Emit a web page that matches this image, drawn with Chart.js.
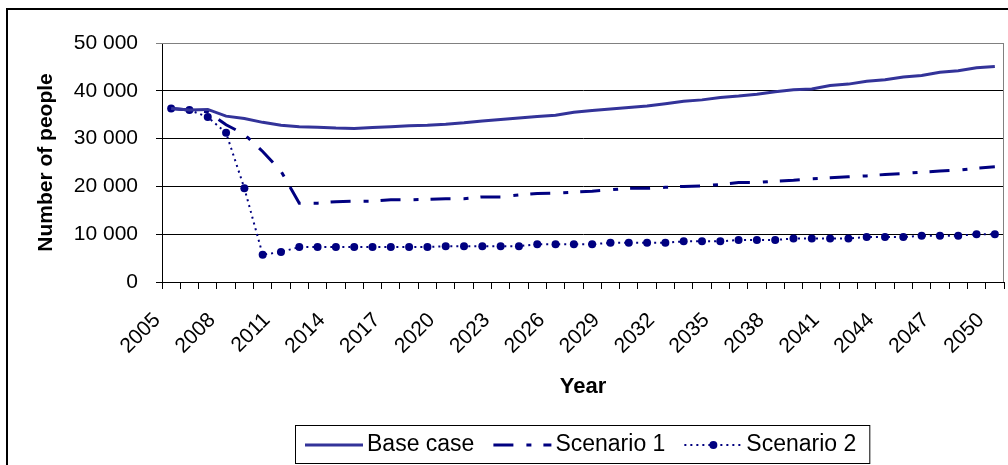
<!DOCTYPE html>
<html>
<head>
<meta charset="utf-8">
<script src="https://cdn.jsdelivr.net/npm/chart.js@4/dist/chart.umd.min.js"></script>
<style>
  html, body { margin: 0; padding: 0; background: #fff; }
  canvas { display: block; }
</style>
</head>
<body>
<canvas id="chart" width="1008" height="465"></canvas>
<script>
// Population projections, 2005-2050
const years = [
  '2005','2006','2007','2008','2009','2010','2011','2012','2013','2014',
  '2015','2016','2017','2018','2019','2020','2021','2022','2023','2024',
  '2025','2026','2027','2028','2029','2030','2031','2032','2033','2034',
  '2035','2036','2037','2038','2039','2040','2041','2042','2043','2044',
  '2045','2046','2047','2048','2049','2050'
];

// Years that carry a label on the category axis
const labelledYears = [
  '2005','2008','2011','2014','2017','2020','2023','2026',
  '2029','2032','2035','2038','2041','2044','2047','2050'
];

const baseCase = [
  36300, 36000, 36100, 34700, 34200, 33400, 32800, 32500, 32400, 32200,
  32100, 32300, 32500, 32700, 32800, 33000, 33300, 33700, 34000, 34300,
  34600, 34900, 35500, 35900, 36200, 36500, 36800, 37300, 37800, 38100,
  38600, 38900, 39300, 39800, 40200, 40400, 41100, 41400, 42000, 42300,
  42900, 43200, 43900, 44200, 44800, 45100
];

const scenario1 = [
  36300, 36000, 35600, 32900, 30900, 27300, 23200, 16500, 16500, 16800,
  16900, 16900, 17200, 17200, 17300, 17400, 17400, 17800, 17800, 18200,
  18500, 18600, 18800, 19000, 19300, 19600, 19600, 19800, 20000, 20100,
  20400, 20800, 20800, 21100, 21300, 21600, 21800, 22000, 22200, 22500,
  22700, 23000, 23200, 23400, 23800, 24100
];

const scenario2 = [
  36300, 36000, 34500, 31200, 19600, 5700, 6300, 7300, 7300, 7300,
  7300, 7300, 7300, 7300, 7300, 7500, 7500, 7500, 7500, 7500,
  7900, 7900, 7900, 7900, 8200, 8200, 8200, 8200, 8500, 8500,
  8500, 8800, 8800, 8800, 9100, 9100, 9100, 9100, 9400, 9400,
  9400, 9700, 9700, 9700, 10000, 10000
];

const seriesNames = ['Base case', 'Scenario 1', 'Scenario 2'];

const yMin = 0;
const yMax = 50000;
const yStep = 10000;

const FONT = '"Liberation Sans", Arial, Helvetica, sans-serif';
const NAVY = '#000080';
const BASE_BLUE = '#333399';

function spacedThousands(v) {
  return String(v).replace(/\B(?=(\d{3})+(?!\d))/g, ' ');
}

// Outer chart frame (left and top edges fall inside the page)
const outerFrame = {
  id: 'outerFrame',
  beforeDraw(chart) {
    const ctx = chart.ctx;
    ctx.save();
    ctx.fillStyle = '#fff';
    ctx.fillRect(0, 0, chart.width, chart.height);
    ctx.strokeStyle = '#000';
    ctx.lineWidth = 2;
    ctx.beginPath();
    ctx.moveTo(7, chart.height + 2);
    ctx.lineTo(7, 9);
    ctx.lineTo(chart.width + 2, 9);
    ctx.stroke();
    ctx.restore();
  }
};

// Grey border on the top and right of the plot area
const plotFrame = {
  id: 'plotFrame',
  beforeDatasetsDraw(chart) {
    const { ctx, chartArea: a } = chart;
    ctx.save();
    ctx.strokeStyle = '#808080';
    ctx.lineWidth = 1;
    ctx.beginPath();
    ctx.moveTo(a.left, Math.round(a.top) + 0.5);
    ctx.lineTo(Math.round(a.right) - 0.5, Math.round(a.top) + 0.5);
    ctx.lineTo(Math.round(a.right) - 0.5, a.bottom);
    ctx.stroke();
    ctx.restore();
  }
};

// Boxed legend with line samples under the axis title
const boxedLegend = {
  id: 'boxedLegend',
  afterDraw(chart) {
    const ctx = chart.ctx;
    const datasets = chart.data.datasets;
    const left = 295, top = 425, height = 38;
    const sampleLen = 58, textGap = 4, itemGap = 19, padL = 10, padR = 13;
    ctx.save();
    ctx.font = '23px ' + FONT;
    ctx.textBaseline = 'middle';
    ctx.textAlign = 'left';
    const cy = top + height / 2 + 1;
    let x = left + padL;
    const items = datasets.map(ds => {
      const w = ctx.measureText(ds.label).width;
      const it = { ds, x, w };
      x += sampleLen + textGap + w + itemGap;
      return it;
    });
    const right = x - itemGap + padR;

    ctx.fillStyle = '#fff';
    ctx.fillRect(left, top, right - left, height);
    ctx.strokeStyle = '#000';
    ctx.lineWidth = 1;
    ctx.strokeRect(left + 0.5, top + 0.5, right - left, height);

    items.forEach(({ ds, x, w }) => {
      ctx.save();
      ctx.strokeStyle = ds.borderColor;
      ctx.lineWidth = ds.borderWidth;
      ctx.setLineDash(ds.borderDash || []);
      ctx.beginPath();
      ctx.moveTo(x, cy);
      ctx.lineTo(x + sampleLen, cy);
      ctx.stroke();
      if (ds.pointRadius > 0) {
        ctx.setLineDash([]);
        ctx.fillStyle = ds.pointBackgroundColor;
        ctx.beginPath();
        ctx.arc(x + sampleLen / 2, cy, ds.pointRadius, 0, Math.PI * 2);
        ctx.fill();
      }
      ctx.restore();
      ctx.fillStyle = '#000';
      ctx.fillText(ds.label, x + sampleLen + textGap, cy);
    });
    ctx.restore();
  }
};

new Chart(document.getElementById('chart'), {
  type: 'line',
  data: {
    labels: years,
    datasets: [
      {
        label: seriesNames[0],
        data: baseCase,
        borderColor: BASE_BLUE,
        borderWidth: 3,
        pointRadius: 0,
        tension: 0
      },
      {
        label: seriesNames[1],
        data: scenario1,
        borderColor: NAVY,
        borderWidth: 3,
        borderDash: [20, 13, 5, 12],
        pointRadius: 0,
        tension: 0
      },
      {
        label: seriesNames[2],
        data: scenario2,
        borderColor: NAVY,
        borderWidth: 2,
        borderDash: [2, 4],
        pointRadius: 4,
        pointBorderWidth: 0,
        pointBackgroundColor: NAVY,
        pointBorderColor: NAVY,
        tension: 0
      }
    ]
  },
  options: {
    responsive: false,
    animation: false,
    devicePixelRatio: 1,
    layout: { padding: { left: 30, right: 1, top: 43, bottom: 61 } },
    plugins: {
      legend: { display: false },
      tooltip: { enabled: false }
    },
    scales: {
      x: {
        type: 'category',
        offset: true,
        grid: {
          offset: true,
          drawOnChartArea: false,
          drawTicks: true,
          tickLength: 7,
          color: '#000',
          lineWidth: 1
        },
        border: { display: true, color: '#000', width: 1 },
        ticks: {
          autoSkip: false,
          minRotation: 45,
          maxRotation: 45,
          labelOffset: -14,
          padding: 19,
          color: '#000',
          font: { family: FONT, size: 21 },
          callback(value, index) {
            const y = years[index];
            return labelledYears.includes(y) ? y : '';
          }
        },
        title: {
          display: true,
          text: 'Year',
          color: '#000',
          font: { family: FONT, size: 22, weight: 'bold' },
          padding: { top: 4, bottom: 4 }
        },
        afterFit(scale) {
          scale.height = 122;
          scale.paddingLeft = 0;
          scale.paddingRight = 0;
        }
      },
      y: {
        min: yMin,
        max: yMax,
        grid: {
          drawTicks: true,
          tickLength: 6,
          lineWidth: 1,
          color: ctx => (ctx.tick && ctx.tick.value === yMax ? '#808080' : '#000')
        },
        border: { display: true, color: '#000', width: 1 },
        ticks: {
          stepSize: yStep,
          padding: 18,
          color: '#000',
          font: { family: FONT, size: 21 },
          callback: v => spacedThousands(v)
        },
        title: {
          display: true,
          text: 'Number of people',
          color: '#000',
          font: { family: FONT, size: 21, weight: 'bold' },
          padding: { top: 4, bottom: 4 }
        },
        afterFit(scale) {
          scale.width = 132;
          scale.paddingTop = 0;
          scale.paddingBottom = 0;
        }
      }
    }
  },
  plugins: [outerFrame, plotFrame, boxedLegend]
});
</script>
</body>
</html>
